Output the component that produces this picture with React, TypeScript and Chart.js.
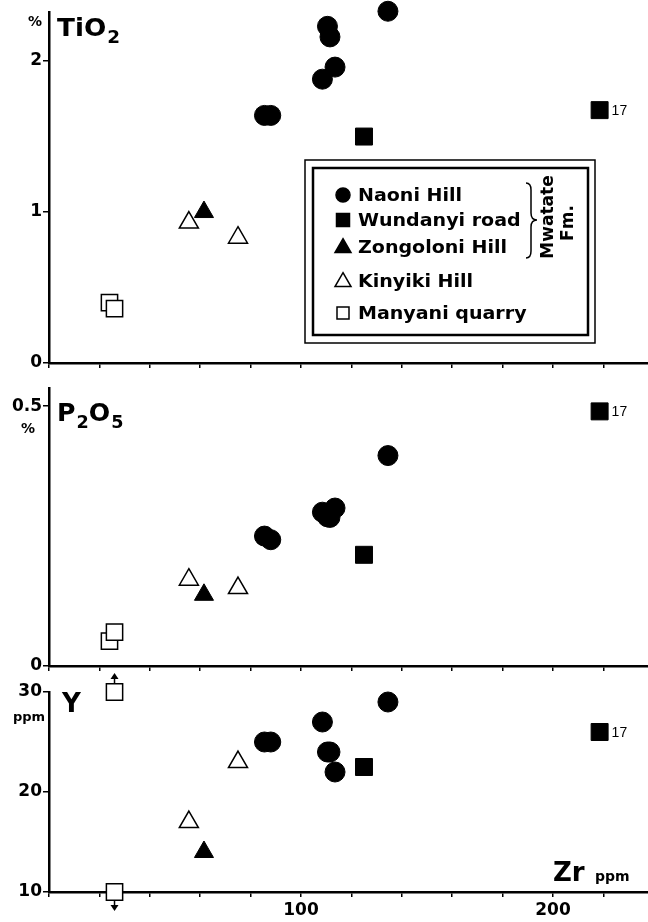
import React, { useEffect, useRef } from 'react';
import { Chart, registerables } from 'chart.js';
Chart.register(...registerables);

const FONT = '"DejaVu Sans", "Liberation Sans", Arial, sans-serif';

// ---- categories / labels ----
const groupNames = ['Naoni Hill', 'Wundanyi road', 'Zongoloni Hill', 'Kinyiki Hill', 'Manyani quarry'];
const formationLines = ['Mwatate', 'Fm.'];
const wundanyiNote = '17';

// ---- Zr (ppm) per sample ----
const naoniZr = [85.5, 88, 108.5, 110.5, 111.5, 113.5, 134.5];
const wundanyiZr = [125, 218.5];
const zongoloniZr = [61.5];
const kinyikiZr = [55.5, 75];
const manyaniZr = [24, 26];
const manyaniZrY = [26, 26];

// ---- TiO2 (%) ----
const naoniTiO2 = [1.64, 1.64, 1.88, 2.23, 2.16, 1.96, 2.33];
const wundanyiTiO2 = [1.5, 1.675];
const zongoloniTiO2 = [1.0];
const kinyikiTiO2 = [0.93, 0.83];
const manyaniTiO2 = [0.4, 0.36];

// ---- P2O5 (%) ----
const naoniP2O5 = [0.25, 0.243, 0.296, 0.287, 0.286, 0.304, 0.405];
const wundanyiP2O5 = [0.214, 0.49];
const zongoloniP2O5 = [0.137];
const kinyikiP2O5 = [0.166, 0.15];
const manyaniP2O5 = [0.048, 0.065];

// ---- Y (ppm) ----
const naoniY = [25, 25, 27, 24, 24, 22, 29];
const wundanyiY = [22.5, 26];
const zongoloniY = [14];
const kinyikiY = [17, 23];
const manyaniY = [30, 10];
const manyaniYArrow = ['up', 'down'];

// ---- ticks ----
const zrTicks = [0, 20, 40, 60, 80, 100, 120, 140, 160, 180, 200, 220];
const zrLabelled = [100, 200];
const tio2Ticks = [0, 1, 2];
const p2o5Ticks = [0, 0.5];
const yTicks = [10, 20, 30];

// ---------- drawing helpers ----------
function txt(ctx: CanvasRenderingContext2D, s: string, x: number, y: number, size: number,
  o: { weight?: string; hs?: number; align?: string; family?: string } = {}) {
  ctx.save();
  ctx.font = `${o.weight ?? 'bold'} ${size}px ${o.family ?? FONT}`;
  ctx.fillStyle = '#000';
  ctx.textBaseline = 'alphabetic';
  const hs = o.hs ?? 1;
  const w = ctx.measureText(s).width * hs;
  let x0 = x;
  if (o.align === 'center') x0 = x - w / 2;
  else if (o.align === 'right') x0 = x - w;
  ctx.translate(x0, y);
  ctx.scale(hs, 1);
  ctx.fillText(s, 0, 0);
  ctx.restore();
  return w;
}

function rich(ctx: CanvasRenderingContext2D, parts: { t: string; sub?: boolean }[], x: number, y: number, size: number, hs = 1) {
  let cx = x;
  for (const p of parts) {
    if (p.sub) cx += txt(ctx, p.t, cx + 1, y + size * 0.28, size * 0.7, { hs }) + 1;
    else cx += txt(ctx, p.t, cx, y, size, { hs });
  }
}

function marker(ctx: CanvasRenderingContext2D, kind: string, x: number, y: number, s: number, filled: boolean) {
  ctx.save();
  ctx.beginPath();
  if (kind === 'circle') ctx.arc(x, y, s / 2, 0, Math.PI * 2);
  else if (kind === 'rect') ctx.rect(x - s / 2, y - s / 2, s, s);
  else {
    const h = s * 0.87;
    ctx.moveTo(x, y - h * 0.6);
    ctx.lineTo(x + s / 2, y + h * 0.4);
    ctx.lineTo(x - s / 2, y + h * 0.4);
    ctx.closePath();
  }
  ctx.fillStyle = filled ? '#000' : '#fff';
  ctx.fill();
  ctx.lineWidth = 1.5;
  ctx.strokeStyle = '#000';
  ctx.stroke();
  ctx.restore();
}

function drawLegend(ctx: CanvasRenderingContext2D) {
  ctx.save();
  ctx.fillStyle = '#fff';
  ctx.fillRect(305, 160, 290, 183);
  ctx.strokeStyle = '#000';
  ctx.lineWidth = 1.5;
  ctx.strokeRect(305, 160, 290, 183);
  ctx.lineWidth = 2.5;
  ctx.strokeRect(313, 168, 275, 167);
  ctx.restore();
  const rows = [
    { k: 'circle', f: true, y: 195, s: 14 },
    { k: 'rect', f: true, y: 220, s: 13 },
    { k: 'tri', f: true, y: 247, s: 16 },
    { k: 'tri', f: false, y: 281, s: 16 },
    { k: 'rect', f: false, y: 313, s: 12 },
  ];
  rows.forEach((r, i) => {
    marker(ctx, r.k, 343, r.y, r.s, r.f);
    txt(ctx, groupNames[i], 358, r.y + 6, 17, { hs: 1.12 });
  });
  // brace
  ctx.save();
  ctx.strokeStyle = '#000';
  ctx.lineWidth = 1.5;
  ctx.beginPath();
  ctx.moveTo(526, 183);
  ctx.quadraticCurveTo(531, 183, 531, 190);
  ctx.lineTo(531, 213);
  ctx.quadraticCurveTo(531, 220, 537, 220);
  ctx.quadraticCurveTo(531, 220, 531, 227);
  ctx.lineTo(531, 251);
  ctx.quadraticCurveTo(531, 258, 526, 258);
  ctx.stroke();
  ctx.restore();
  // rotated formation label
  ctx.save();
  ctx.translate(547, 217);
  ctx.rotate(-Math.PI / 2);
  txt(ctx, formationLines[0], 0, 6, 17, { align: 'center' });
  txt(ctx, formationLines[1], -6, 26, 17, { align: 'center' });
  ctx.restore();
}

type Panel = {
  top: number; height: number; padTop: number; axisH: number;
  yMin: number; yMax: number; yTicks: number[]; showX: boolean;
  naoni: number[]; wund: number[]; zong: number[]; kin: number[]; many: number[]; manyZr: number[];
  extras: (ctx: CanvasRenderingContext2D, chart: any, top: number) => void;
};

function note17(ctx: CanvasRenderingContext2D, chart: any, vals: number[]) {
  const px = chart.scales.x.getPixelForValue(wundanyiZr[1]);
  const py = chart.scales.y.getPixelForValue(vals[1]);
  txt(ctx, wundanyiNote, px + 12, py + 5, 14, { weight: 'normal', family: '"Liberation Sans", Arial, sans-serif' });
}

const panels: Panel[] = [
  {
    top: 0, height: 380, padTop: 12, axisH: 17,
    yMin: 0, yMax: 2.325, yTicks: tio2Ticks, showX: false,
    naoni: naoniTiO2, wund: wundanyiTiO2, zong: zongoloniTiO2, kin: kinyikiTiO2, many: manyaniTiO2, manyZr: manyaniZr,
    extras: (ctx, chart, top) => {
      note17(ctx, chart, wundanyiTiO2);
      ctx.save();
      ctx.translate(0, -top);
      txt(ctx, '%', 35, 26, 14, { align: 'center' });
      rich(ctx, [{ t: 'TiO' }, { t: '2', sub: true }], 57, 36, 25, 1.05);
      drawLegend(ctx);
      ctx.restore();
    },
  },
  {
    top: 370, height: 320, padTop: 18, axisH: 24,
    yMin: 0, yMax: 0.535, yTicks: p2o5Ticks, showX: false,
    naoni: naoniP2O5, wund: wundanyiP2O5, zong: zongoloniP2O5, kin: kinyikiP2O5, many: manyaniP2O5, manyZr: manyaniZr,
    extras: (ctx, chart, top) => {
      note17(ctx, chart, wundanyiP2O5);
      ctx.save();
      ctx.translate(0, -top);
      txt(ctx, '%', 28, 433, 14, { align: 'center' });
      rich(ctx, [{ t: 'P' }, { t: '2', sub: true }, { t: 'O' }, { t: '5', sub: true }], 57, 421, 24, 1.05);
      ctx.restore();
    },
  },
  {
    top: 660, height: 262, padTop: 32, axisH: 30,
    yMin: 10, yMax: 30, yTicks: yTicks, showX: true,
    naoni: naoniY, wund: wundanyiY, zong: zongoloniY, kin: kinyikiY, many: manyaniY, manyZr: manyaniZrY,
    extras: (ctx, chart, top) => {
      note17(ctx, chart, wundanyiY);
      // arrows on Manyani points (beyond-range values)
      manyaniY.forEach((v, i) => {
        const px = chart.scales.x.getPixelForValue(manyaniZrY[i]);
        const py = chart.scales.y.getPixelForValue(v);
        const dir = manyaniYArrow[i] === 'up' ? -1 : 1;
        const y0 = py + dir * 9;
        const y1 = py + dir * 19;
        ctx.save();
        ctx.strokeStyle = '#000';
        ctx.fillStyle = '#000';
        ctx.lineWidth = 1.5;
        ctx.beginPath();
        ctx.moveTo(px, y0);
        ctx.lineTo(px, y1 - dir * 4);
        ctx.stroke();
        ctx.beginPath();
        ctx.moveTo(px, y1);
        ctx.lineTo(px - 4, y1 - dir * 6);
        ctx.lineTo(px + 4, y1 - dir * 6);
        ctx.closePath();
        ctx.fill();
        ctx.restore();
      });
      ctx.save();
      ctx.translate(0, -top);
      txt(ctx, 'ppm', 29, 721, 13, { align: 'center' });
      txt(ctx, 'Y', 62, 712, 26);
      txt(ctx, 'Zr', 553, 881, 26);
      txt(ctx, 'ppm', 595, 881, 14);
      ctx.restore();
    },
  },
];

const pts = (xs: number[], ys: number[]) => xs.map((x, i) => ({ x, y: ys[i] }));

function buildConfig(p: Panel): any {
  const tickFont = { family: FONT, size: 17, weight: 'bold' as const };
  const base = { clip: false as const, borderColor: '#000', showLine: false };
  return {
    type: 'scatter',
    data: {
      datasets: [
        { ...base, label: groupNames[0], data: pts(naoniZr, p.naoni), pointStyle: 'circle', pointRadius: 10, backgroundColor: '#000', borderWidth: 1 },
        { ...base, label: groupNames[1], data: pts(wundanyiZr, p.wund), pointStyle: 'rect', pointRadius: 12, backgroundColor: '#000', borderWidth: 1 },
        { ...base, label: groupNames[2], data: pts(zongoloniZr, p.zong), pointStyle: 'triangle', pointRadius: 11, backgroundColor: '#000', borderWidth: 1 },
        { ...base, label: groupNames[3], data: pts(kinyikiZr, p.kin), pointStyle: 'triangle', pointRadius: 11, backgroundColor: '#fff', borderWidth: 1.5 },
        { ...base, label: groupNames[4], data: pts(p.manyZr, p.many), pointStyle: 'rect', pointRadius: 11.5, backgroundColor: '#fff', borderWidth: 1.5 },
      ],
    },
    options: {
      animation: false,
      responsive: false,
      events: [],
      layout: { autoPadding: false, padding: { top: p.padTop, left: 0, right: 0, bottom: 0 } },
      plugins: { legend: { display: false }, tooltip: { enabled: false } },
      scales: {
        x: {
          type: 'linear', min: 0, max: 237.7,
          border: { display: true, color: '#000', width: 2.5 },
          grid: { display: true, drawOnChartArea: false, drawTicks: true, tickLength: 5, color: '#000', lineWidth: 1.5 },
          ticks: {
            color: '#000', font: tickFont, padding: 3, maxRotation: 0, autoSkip: false,
            callback: (v: number) => (p.showX && zrLabelled.includes(v) ? String(v) : ''),
          },
          afterBuildTicks: (s: any) => { s.ticks = zrTicks.map((v) => ({ value: v })); },
          afterFit: (s: any) => { s.height = p.axisH; s.paddingLeft = 0; s.paddingRight = 0; },
        },
        y: {
          type: 'linear', min: p.yMin, max: p.yMax,
          border: { display: true, color: '#000', width: 2.5 },
          grid: { display: true, drawOnChartArea: false, drawTicks: true, tickLength: 6, color: '#000', lineWidth: 1.5 },
          ticks: { color: '#000', font: tickFont, padding: 1, callback: (v: number) => String(v) },
          afterBuildTicks: (s: any) => { s.ticks = p.yTicks.map((v) => ({ value: v })); },
          afterFit: (s: any) => { s.width = 49; s.paddingTop = 0; s.paddingBottom = 0; },
        },
      },
    },
    plugins: [
      {
        id: 'extras',
        afterDraw(chart: any) {
          const ctx = chart.ctx as CanvasRenderingContext2D;
          ctx.save();
          p.extras(ctx, chart, p.top);
          ctx.restore();
        },
      },
    ],
  };
}

function PanelChart({ panel }: { panel: Panel }) {
  const ref = useRef<HTMLCanvasElement>(null);
  useEffect(() => {
    const chart = new Chart(ref.current as HTMLCanvasElement, buildConfig(panel));
    return () => chart.destroy();
  }, [panel]);
  return (
    <canvas
      ref={ref}
      width={648}
      height={panel.height}
      style={{ position: 'absolute', left: 0, top: panel.top, width: 648, height: panel.height }}
    />
  );
}

export default function App() {
  return (
    <div style={{ position: 'absolute', left: 0, top: 0, width: 648, height: 922, background: '#fff', overflow: 'hidden' }}>
      {panels.map((p, i) => (
        <PanelChart key={i} panel={p} />
      ))}
    </div>
  );
}
